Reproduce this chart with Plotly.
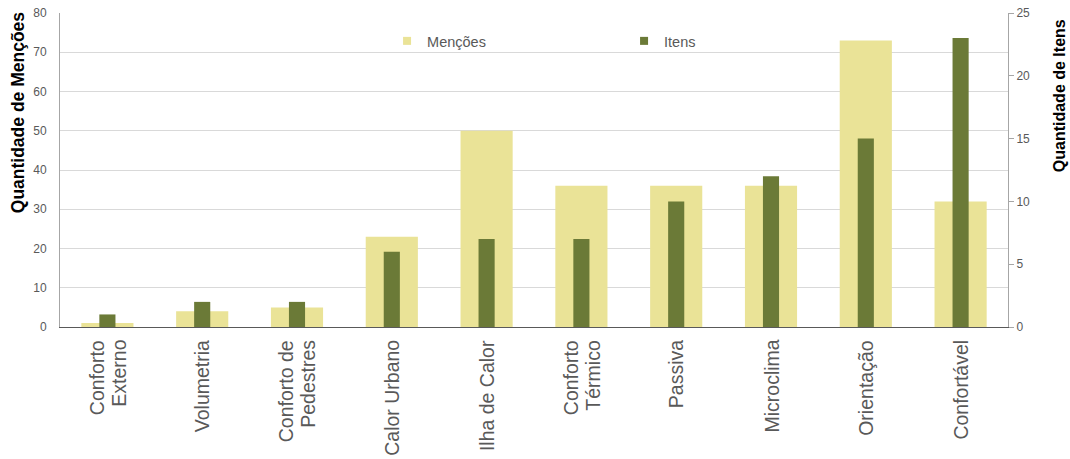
import plotly.graph_objects as go

categorias = [
    "Conforto Externo", "Volumetria", "Conforto de Pedestres", "Calor Urbano",
    "Ilha de Calor", "Conforto Térmico", "Passiva", "Microclima",
    "Orientação", "Confortável",
]
# category labels as printed under the bars (one list entry per line)
rotulos = [
    ["Conforto", "Externo"], ["Volumetria"], ["Conforto de", "Pedestres"],
    ["Calor Urbano"], ["Ilha de Calor"], ["Conforto", "Térmico"], ["Passiva"],
    ["Microclima"], ["Orientação"], ["Confortável"],
]
mencoes = [1, 4, 5, 23, 50, 36, 36, 36, 73, 32]
itens = [1, 2, 2, 6, 7, 7, 10, 12, 15, 23]

COR_MENCOES = "#EAE397"
COR_ITENS = "#6B7A37"
TEXTO = "#595959"
FONTE = "Liberation Sans, Arial, sans-serif"

fig = go.Figure()
fig.add_trace(go.Bar(
    x=categorias, y=mencoes, name="Menções", width=0.55, showlegend=False,
    marker=dict(color=COR_MENCOES, line=dict(width=0)), yaxis="y",
))
fig.add_trace(go.Bar(
    x=categorias, y=itens, name="Itens", width=0.17, showlegend=False,
    marker=dict(color=COR_ITENS, line=dict(width=0)), yaxis="y2",
))
# small square legend keys
for nome, cor in [("Menções", COR_MENCOES), ("Itens", COR_ITENS)]:
    fig.add_trace(go.Scatter(
        x=[None], y=[None], mode="markers", name=nome,
        marker=dict(symbol="square", size=8, color=cor), showlegend=True,
    ))

# rotated category labels, each line placed separately for tight line spacing
LINHA = 21.5
for cat, linhas in zip(categorias, rotulos):
    n = len(linhas)
    for i, txt in enumerate(linhas):
        fig.add_annotation(
            x=cat, xref="x", y=0, yref="paper", text=txt, showarrow=False,
            textangle=-90, xanchor="center", yanchor="top",
            xshift=(i - (n - 1) / 2) * LINHA, yshift=-11,
            font=dict(size=19.5, color=TEXTO, family=FONTE),
        )

# axis titles, top-aligned beside each axis
fig.add_annotation(
    x=-0.0443, xref="paper", y=1.012, yref="paper", yanchor="top", xanchor="center",
    text="<b>Quantidade de Menções</b>", textangle=-90, showarrow=False,
    font=dict(size=17.5, color="black", family=FONTE),
)
fig.add_annotation(
    x=1.0538, xref="paper", y=0.985, yref="paper", yanchor="top", xanchor="center",
    text="<b>Quantidade de Itens</b>", textangle=-90, showarrow=False,
    font=dict(size=16, color="black", family=FONTE),
)

fig.update_layout(
    width=1070, height=459,
    margin=dict(l=60, r=62, t=13, b=132, autoexpand=False),
    paper_bgcolor="white", plot_bgcolor="white",
    barmode="overlay",
    font=dict(family=FONTE, color=TEXTO),
    showlegend=True,
    legend=dict(
        orientation="h", x=0.345, y=0.911, xanchor="left", yanchor="middle",
        font=dict(size=14.5, color=TEXTO), bgcolor="rgba(0,0,0,0)",
        entrywidth=192, entrywidthmode="pixels", itemwidth=30,
    ),
    xaxis=dict(
        showticklabels=False, automargin=False,
        showline=True, linecolor="#595959", linewidth=1,
        showgrid=False, ticks="",
    ),
    yaxis=dict(
        range=[0, 80], dtick=10, tickfont=dict(size=12, color=TEXTO),
        gridcolor="#D9D9D9", gridwidth=1, zeroline=False, automargin=False,
        showline=True, linecolor="#A6A6A6", linewidth=1,
        ticks="", ticklabelstandoff=10,
    ),
    yaxis2=dict(
        range=[0, 25], dtick=5, overlaying="y", side="right",
        tickfont=dict(size=12, color=TEXTO), showgrid=False, zeroline=False,
        automargin=False,
        showline=True, linecolor="#A6A6A6", linewidth=1,
        ticks="outside", ticklen=5, tickcolor="#A6A6A6",
    ),
)

fig.write_html("out.html")
